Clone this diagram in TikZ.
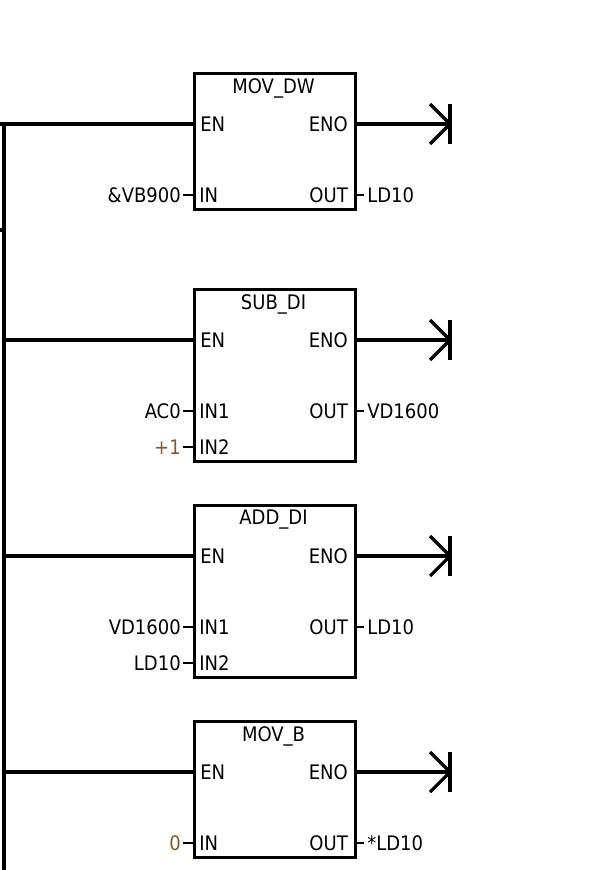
\documentclass[tikz,border=0pt]{standalone}
\usepackage{fontspec}
\setmainfont{DejaVu Sans Condensed}
\begin{document}
\begin{tikzpicture}[x=0.75pt,y=-0.75pt,
  w/.style={line width=2.4pt},
  pin/.style={line width=2pt},
  t/.style={inner sep=0pt,font=\fontsize{15}{15}\selectfont},
  brn/.style={text=brown!70!black}]
\useasboundingbox (0,0) rectangle (600,870);
\fill[white] (0,0) rectangle (600,870);
\coordinate (r0) at (4,124); \coordinate (r1) at (4,870);
\draw[w] (r0) -- (r1);
\coordinate (tk0) at (0,230); \draw[w] (tk0) -- (r0 |- tk0);
\coordinate (l0) at (0,124);
\newcommand{\blk}[6]{% name, top, bottom, title, hasIN2, tag
  \node[draw,w,minimum width=161*0.75pt,minimum height={(#3-#2)*0.75pt},inner sep=0pt,anchor=north west] (#1) at (193,#2) {};
  \node[t] (#1t) at (273.5,#2+16) {#4};
  \coordinate (#1en) at (193,#2+52);
  \coordinate (#1eno) at (354,#2+52);
  \node[t,anchor=west] (#1a) at (200,#2+52) {EN};
  \node[t,anchor=east] (#1b) at (348,#2+52) {ENO};
  \coordinate (#1e) at (450,#2+52);
  \draw[w] (#1en -| r0) -- (#1en);
  \draw[w] (#1eno) -- (#1e);
  \draw[w] ([yshift=-20*0.75pt]#1e) -- ([yshift=20*0.75pt]#1e);
  \draw[w,line join=miter] ([xshift=-20*0.75pt,yshift=20*0.75pt]#1e) -- (#1e) -- ([xshift=-20*0.75pt,yshift=-20*0.75pt]#1e);
}
\blk{b1}{72}{208}{MOV\_DW}{}{}
\blk{b2}{288}{460}{SUB\_DI}{}{}
\blk{b3}{504}{676}{ADD\_DI}{}{}
\blk{b4}{720}{856}{MOV\_B}{}{}
\draw[w] (l0) -- (r0);
\newcommand{\inp}[4]{% y, pinname, label, style
  \coordinate (p) at (193,#1);
  \draw[pin] (183,#1) -- (p);
  \node[t,anchor=west] at (199,#1) {#2};
  \node[t,anchor=east,#4] at (181,#1) {#3};}
\newcommand{\outp}[2]{%
  \coordinate (q) at (354,#1);
  \draw[pin] (q) -- (364,#1);
  \node[t,anchor=east] at (348,#1) {OUT};
  \node[t,anchor=west] at (367,#1) {#2};}
\inp{195}{IN}{\&VB900}{}
\outp{195}{LD10}
\inp{411}{IN1}{AC0}{}
\inp{447}{IN2}{+1}{brn}
\outp{411}{VD1600}
\inp{627}{IN1}{VD1600}{}
\inp{663}{IN2}{LD10}{}
\outp{627}{LD10}
\inp{843}{IN}{0}{brn}
\outp{843}{*LD10}
\end{tikzpicture}
\end{document}
